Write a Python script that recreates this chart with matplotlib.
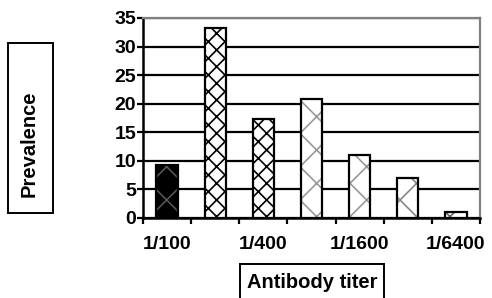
import numpy as np
import matplotlib
matplotlib.use("Agg")
import matplotlib.pyplot as plt
from matplotlib.patches import Rectangle

plt.rcParams.update({
    "font.family": ["Liberation Sans", "DejaVu Sans"],
    "font.weight": "bold", "font.size": 14,
    "hatch.linewidth": 1.2,
})

# data
prevalence = [9.3, 33.3, 17.3, 20.9, 11.0, 7.0, 1.0]
tick_labels = ["1/100", "1/400", "1/1600", "1/6400"]
tick_slots = [0, 2, 4, 6]

faces = ["black", "white", "white", "white", "white", "white", "white"]
hatch_cols = ["#555555", "black", "black", "#999999", "#999999", "#888888", "#666666"]
hatches = ["x", "xx", "xx", "x", "x", "x", "x"]

fig = plt.figure(figsize=(4.92, 2.98), dpi=100)
ax = fig.add_axes([143 / 492, 1 - 218 / 298, 337 / 492, 200 / 298])

x = np.arange(len(prevalence))
for xi, v, fc, hc, h in zip(x, prevalence, faces, hatch_cols, hatches):
    ax.bar(xi, v, width=0.44, color=fc, edgecolor=hc, hatch=h, linewidth=0, zorder=3)
    ax.bar(xi, v, width=0.44, fill=False, edgecolor="black", linewidth=1.6, zorder=4)

ax.set_xlim(-0.5, len(prevalence) - 0.5)
ax.set_ylim(0, 35)
ax.set_yticks(range(0, 36, 5))
ax.yaxis.grid(True, color="black", linewidth=1.6, zorder=1)
ax.set_axisbelow(True)

ax.set_xticks(np.arange(len(prevalence) + 1) - 0.5)
ax.set_xticklabels([])
ax.set_xticks(tick_slots, minor=True)
ax.set_xticklabels(tick_labels, minor=True)
ax.tick_params(axis="x", which="major", direction="out", length=4, width=1.6)
ax.tick_params(axis="x", which="minor", length=0, pad=13, labelsize=14)
ax.tick_params(axis="y", direction="out", length=4, width=1.6, pad=1, labelsize=14)

for s in ["left", "bottom"]:
    ax.spines[s].set_color("black")
    ax.spines[s].set_linewidth(1.8)
for s in ["top", "right"]:
    ax.spines[s].set_color("#808080")
    ax.spines[s].set_linewidth(1.6)

# boxed axis titles
fig.patches.append(Rectangle((8 / 492, 1 - 213 / 298), 45 / 492, 170 / 298,
                             transform=fig.transFigure, fill=False,
                             edgecolor="black", linewidth=1.4))
fig.text(29 / 492, 1 - 144 / 298, "Prevalence", rotation=90,
         ha="center", va="center", fontsize=14.5, fontweight="bold")
fig.patches.append(Rectangle((240 / 492, -0.05), 144 / 492, 34 / 298 + 0.05,
                             transform=fig.transFigure, fill=False,
                             edgecolor="black", linewidth=1.4))
fig.text(312 / 492, 1 - 283 / 298, "Antibody titer",
         ha="center", va="center", fontsize=14.5, fontweight="bold")

fig.savefig("out.png", dpi=100)
